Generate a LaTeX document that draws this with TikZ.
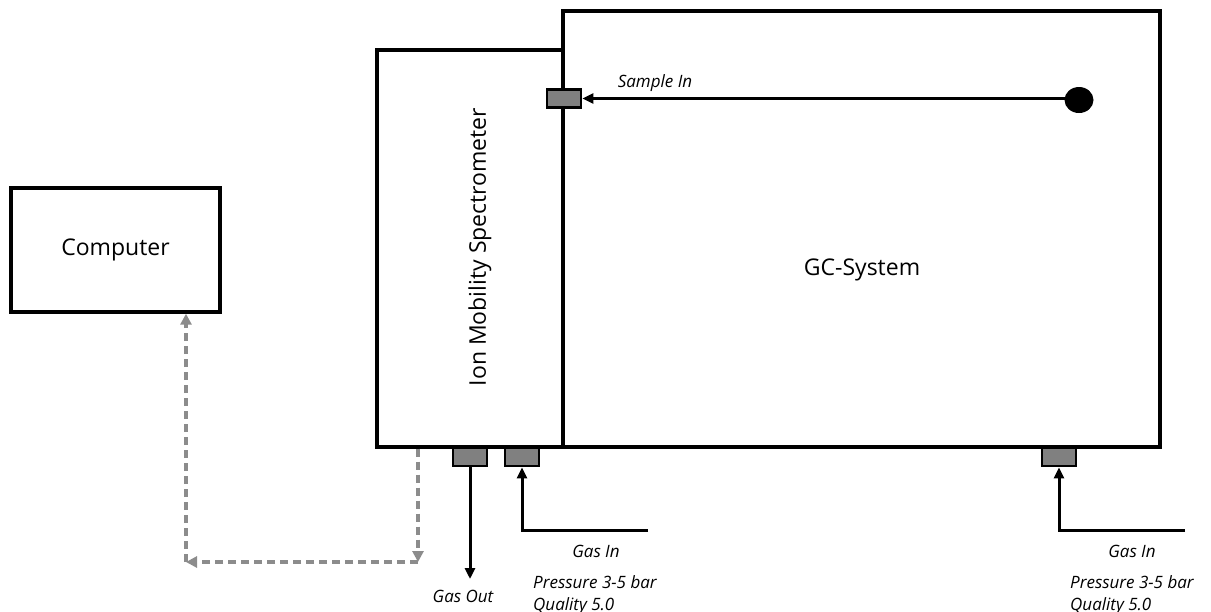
\documentclass[tikz,border=0pt]{standalone}
\usepackage{fontspec}
\setmainfont{Open Sans}
\usetikzlibrary{arrows.meta, shapes.geometric}

\begin{document}
\begin{tikzpicture}[x=1pt, y=-1pt,
    box/.style={draw, line width=3.4pt, inner sep=0pt},
    port/.style={draw, fill=black!50, line width=2.8pt, minimum width=34pt, minimum height=18pt, inner sep=0pt},
    pipe/.style={line width=3pt, -{Triangle[length=11pt, width=10pt]}},
    link/.style={draw=black!45, line width=3.2pt, dash pattern=on 8pt off 5pt, -{Triangle[length=11pt, width=11pt]}},
    bigtext/.style={font=\fontsize{23}{27}\selectfont},
    smalltext/.style={font=\fontsize{17}{20}\selectfont\itshape, inner sep=0pt}]

    \useasboundingbox (0,0) rectangle (1211,611);

    % Boxes
    \node[box, minimum width=209pt, minimum height=124pt, bigtext] (pc) at (115.5,250) {Computer};
    \node[box, minimum width=186pt, minimum height=397pt] (ims) at (470,248.5) {};
    \node[box, minimum width=597pt, minimum height=436pt] (gc) at (861.5,229) {};

    % Box labels
    \node[bigtext, rotate=90] (imstext) at (480,247) {Ion Mobility Spectrometer};
    \node[bigtext, anchor=base] (gctext) at (862,275) {GC-System};

    % Ports
    \node[port] (sin) at (564,98.5) {};
    \node[port] (gout) at (470,457) {};
    \node[port] (gin1) at (522,457) {};
    \node[port] (gin2) at (1059,457) {};

    % Sample line
    \node[fill, ellipse, minimum width=29pt, minimum height=26pt, inner sep=0pt] (dot) at (1079,100) {};
    \draw[pipe] (dot.center |- sin.east) -- (sin.east);
    \node[smalltext, anchor=base] (samplein) at (655,87) {Sample In};

    % Gas lines
    \coordinate (outend) at (470,579);
    \coordinate (in1) at (648,530);
    \coordinate (in2) at (1185,530);
    \draw[pipe] (gout.south) -- (outend);
    \draw[pipe] (in1) -- (gin1.south |- in1) -- (gin1.south);
    \draw[pipe] (in2) -- (gin2.south |- in2) -- (gin2.south);

    % Gas labels
    \node[smalltext, anchor=base] (gasout) at (463,602) {Gas Out};
    \node[smalltext, anchor=base] (gasin1) at (596,557) {Gas In};
    \node[smalltext, anchor=base west] (press1) at (533,588) {Pressure 3-5 bar};
    \node[smalltext, anchor=base west] (qual1) at (533,610) {Quality 5.0};
    \node[smalltext, anchor=base] (gasin2) at (1132,557) {Gas In};
    \node[smalltext, anchor=base west] (press2) at (1070,588) {Pressure 3-5 bar};
    \node[smalltext, anchor=base west] (qual2) at (1070,610) {Quality 5.0};

    % Data link
    \coordinate (c1) at (418,562);
    \coordinate (c2) at (186,562);
    \draw[link] (ims.south -| c1) -- (c1);
    \draw[link] (c1) -- (c2);
    \draw[link] (c2) -- (pc.south -| c2);

\end{tikzpicture}
\end{document}
